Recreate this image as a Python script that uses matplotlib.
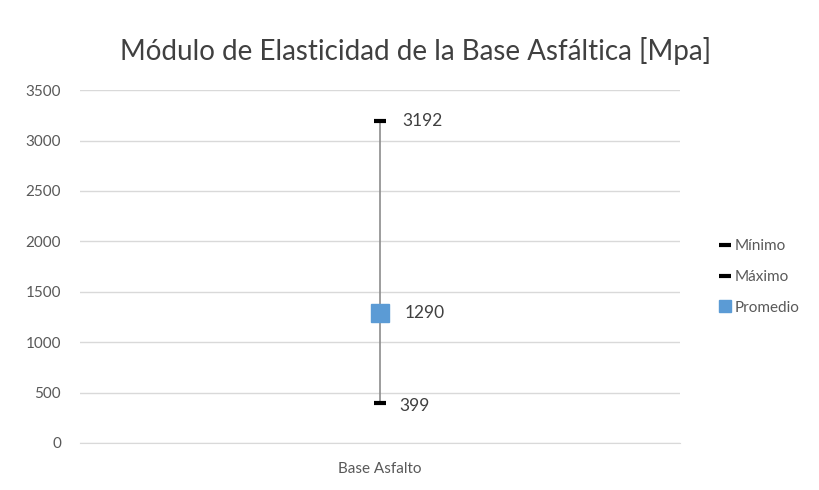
import matplotlib
matplotlib.use("Agg")
import matplotlib.pyplot as plt
from matplotlib.lines import Line2D

plt.rcParams['font.family'] = ['Lato', 'DejaVu Sans']

# data
categories = ['Base Asfalto']
minimo = [399]
maximo = [3192]
promedio = [1290]
yticks = [0, 500, 1000, 1500, 2000, 2500, 3000, 3500]

fig = plt.figure(figsize=(8.2, 4.9), dpi=100)
ax = fig.add_axes([0.098, 0.096, 0.731, 0.72])

x = range(len(categories))
# range line
ax.vlines(x, minimo, maximo, color='#8c8c8c', lw=1.2, zorder=2)
ax.plot(x, minimo, ls='none', marker='_', ms=9, mew=3, color='black', zorder=3, label='Mínimo')
ax.plot(x, maximo, ls='none', marker='_', ms=9, mew=3, color='black', zorder=3, label='Máximo')
ax.plot(x, promedio, ls='none', marker='s', ms=13, color='#5b9bd5', zorder=4, label='Promedio')

for xi, lo, hi, av in zip(x, minimo, maximo, promedio):
    ax.annotate(f'{hi}', (xi, hi), xytext=(16, 0), textcoords='offset points',
                va='center', fontsize=12.5, color='#404040')
    ax.annotate(f'{av}', (xi, av), xytext=(18, 0), textcoords='offset points',
                va='center', fontsize=12.5, color='#404040')
    ax.annotate(f'{lo}', (xi, lo), xytext=(14, -2), textcoords='offset points',
                va='center', fontsize=12.5, color='#404040')

ax.set_xlim(-1, 1)
ax.set_xticks(list(x))
ax.set_xticklabels(categories, fontsize=11, color='#595959')
ax.set_ylim(0, 3500)
ax.set_yticks(yticks)
ax.tick_params(axis='y', labelsize=11, labelcolor='#595959', length=0, pad=14)
ax.tick_params(axis='x', length=0, pad=14)
ax.grid(axis='y', color='#d9d9d9', lw=1)
ax.set_axisbelow(True)
for s in ['top', 'right', 'left']:
    ax.spines[s].set_visible(False)
ax.spines['bottom'].set_color('#d9d9d9')

ax.set_title('Módulo de Elasticidad de la Base Asfáltica [Mpa]', fontsize=20,
             color='#404040', pad=22, x=0.56)

handles = [Line2D([], [], ls='none', marker='_', ms=9, mew=3, color='black'),
           Line2D([], [], ls='none', marker='_', ms=9, mew=3, color='black'),
           Line2D([], [], ls='none', marker='s', ms=9, color='#5b9bd5')]
fig.legend(handles, ['Mínimo', 'Máximo', 'Promedio'], loc='center left',
           bbox_to_anchor=(0.862, 0.435), frameon=False, fontsize=11,
           labelcolor='#595959', handlelength=0.6, handletextpad=0.3,
           labelspacing=1.1)

fig.savefig('out.png', dpi=100)
